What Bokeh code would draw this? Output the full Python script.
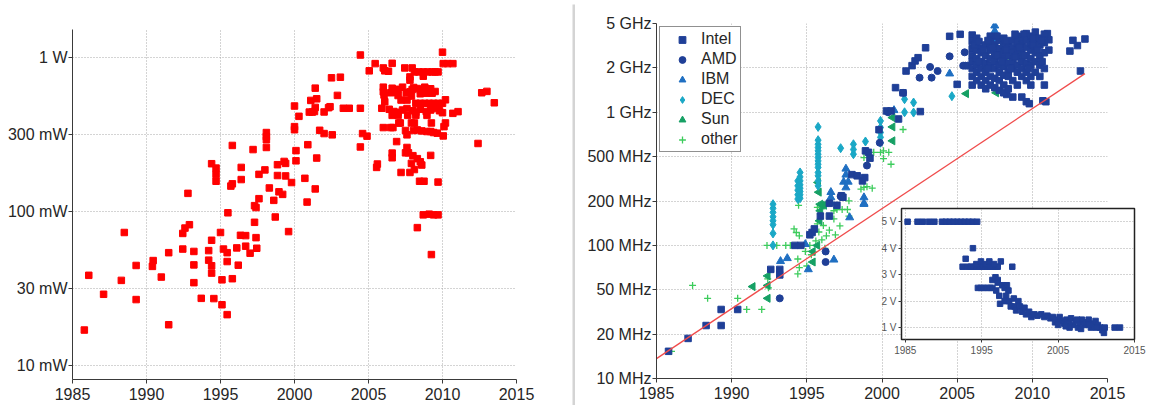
import math
from bokeh.plotting import figure
from bokeh.models import (FixedTicker, CustomJSTickFormatter, PrintfTickFormatter, Range1d,
                          GridBox, Legend, LegendItem)
from bokeh.embed import file_html
from bokeh.resources import INLINE

# ---------------- data ----------------
# left panel: power (mW) vs year
power_points = [
    (1985.8, 17), (1986.1, 38.5), (1987.1, 29), (1988.3, 35.7), (1988.5, 73), (1989.3, 44.6), (1989.3, 26.8), (1990.4, 44), (1990.45, 48), (1991.0, 37.5),
    (1991.5, 54), (1991.5, 18.4), (1992.45, 72), (1992.45, 57), (1992.6, 78), (1992.9, 82), (1993.2, 55), (1993.2, 45), (1993.2, 34.5), (1993.7, 27.3),
    (1994.2, 55.7), (1994.2, 48.3), (1994.4, 65), (1994.4, 44.4), (1994.4, 39.8), (1994.55, 27.2), (1995.0, 73), (1995.1, 36), (1995.1, 24.8), (1995.2, 57),
    (1995.45, 54), (1995.45, 47.3), (1995.45, 21.4), (1995.5, 98), (1995.8, 36.6), (1996.1, 58), (1996.2, 44.8), (1996.35, 70), (1996.7, 69.7), (1996.7, 59.5),
    (1997.0, 53.6), (1997.3, 85), (1997.3, 109), (1997.4, 106), (1997.4, 67.6), (1997.45, 57.7), (1998.6, 118), (1998.7, 92), (1999.6, 74),
    (1992.8, 131), (1994.4, 204), (1994.7, 191), (1994.7, 174), (1994.7, 157), (1995.7, 146), (1995.8, 151), (1995.8, 268), (1996.4, 193), (1996.4, 161),
    (1997.2, 252), (1997.6, 174), (1997.6, 121), (1998.0, 186), (1998.1, 325), (1998.1, 306), (1998.1, 292), (1998.1, 260), (1998.3, 142), (1998.85, 201),
    (1998.85, 171), (1998.95, 134), (1999.2, 129), (1999.3, 211), (1999.4, 205), (1999.4, 170), (1999.8, 154), (2000.0, 483), (2000.0, 355), (2000.0, 339),
    (2000.3, 414), (2000.1, 248), (2000.1, 213),
    (2000.9, 271), (2000.7, 164), (2000.85, 115), (2001.4, 140), (2001.5, 222), (2001.1, 525), (2001.4, 631), (2001.5, 538), (2001.4, 473), (2001.0, 441),
    (2001.2, 441), (2001.35, 445), (2001.7, 336), (2002.0, 320), (2002.0, 442), (2002.3, 471), (2002.4, 478), (2002.5, 736), (2002.55, 314), (2002.9, 566),
    (2003.1, 743), (2003.3, 467), (2003.7, 467), (2004.45, 1035), (2004.45, 467), (2004.45, 262), (2004.6, 320), (2004.9, 308), (2005.05, 817),
    (2005.45, 910), (2006.0, 853), (2006.1, 817), (2006.35, 812), (2006.6, 914), (2007.45, 853), (2007.95, 853), (2007.8, 746), (2007.8, 711), (2008.1, 804),
    (2008.4, 804), (2008.7, 804), (2009.0, 804), (2009.3, 804), (2009.5, 804), (2009.7, 804), (2008.7, 754), (2010.0, 1080), (2010.05, 910), (2010.35, 910),
    (2010.7, 910), (2012.65, 589), (2013.0, 601), (2013.5, 507), (2012.4, 276),
    (2008.3, 78.5), (2008.7, 95), (2009.1, 96), (2009.4, 95), (2009.7, 95), (2009.25, 52.5), (2008.45, 157), (2008.75, 157), (2009.7, 155), (2005.55, 193),
    (2005.6, 203), (2007.2, 179), (2007.8, 179), (2008.1, 187), (2006.6, 239), (2006.6, 223), (2006.9, 284), (2007.6, 260), (2007.5, 240), (2007.7, 240),
    (2008.0, 230), (2008.3, 220), (2008.5, 210), (2008.6, 200), (2007.9, 205), (2009.2, 231),
    (2006.0, 597), (2006.05, 569), (2006.1, 515), (2006.5, 589), (2006.7, 597), (2006.95, 590), (2007.0, 565), (2007.2, 528), (2007.55, 589), (2007.8, 597),
    (2007.95, 618), (2008.05, 637), (2008.3, 627), (2008.5, 612), (2008.7, 612), (2008.9, 585), (2009.3, 585), (2008.5, 580), (2007.9, 560), (2007.6, 528),
    (2006.0, 640), (2006.6, 630), (2007.3, 640), (2008.8, 640), (2009.2, 625), (2009.5, 600), (2007.0, 620),
    (2008.2, 503), (2008.5, 503), (2008.8, 503), (2009.1, 503), (2009.4, 503), (2009.7, 503), (2010.0, 503),
    (2005.9, 467), (2006.4, 460), (2006.7, 445), (2007.0, 440), (2007.3, 455), (2007.6, 465), (2008.0, 450), (2008.2, 440), (2008.5, 460), (2008.9, 445),
    (2009.2, 455), (2009.5, 465), (2009.8, 450), (2010.0, 437), (2010.7, 433), (2011.05, 444), (2010.2, 530),
    (2006.6, 420), (2007.0, 420), (2007.65, 420), (2008.2, 420), (2008.95, 420),
    (2007.05, 375), (2007.15, 375), (2007.9, 375), (2008.1, 375), (2009.25, 375), (2010.2, 375),
    (2006.0, 350), (2006.5, 350), (2006.65, 350),
    (2007.5, 335), (2007.6, 314), (2008.05, 335), (2008.3, 338), (2008.6, 333), (2008.95, 330), (2009.2, 330), (2009.4, 325), (2009.65, 322), (2010.05, 309), (2010.1, 355),
]
power_year = [p[0] for p in power_points]
power_mw = [p[1] for p in power_points]

power_ticks = [10, 31.62, 100, 316.2, 1000]
power_labels = ["10 mW", "30 mW", "100 mW", "300 mW", "1 W"]
year_ticks = [1985, 1990, 1995, 2000, 2005, 2010, 2015]

# right panel: clock frequency (MHz) vs year
intel_points = [
    (1985.8, 16), (1987.1, 20), (1988.3, 25), (1989.3, 33), (1989.3, 25), (1990.4, 33), (1992.6, 66), (1993.2, 66), (1993.2, 60), (1994.2, 100),
    (1994.6, 100), (1995.2, 120), (1995.35, 125), (1995.5, 133), (1995.9, 166), (1996.5, 166), (1996.5, 207), (1997.0, 200), (1997.3, 236), (1997.4, 230),
    (1998.0, 340), (1998.35, 333), (1998.7, 305), (1998.85, 323), (1998.9, 513), (1999.1, 500), (1999.2, 452), (1999.8, 740), (2000.3, 1023), (2000.6, 1023),
    (2001.1, 890), (2000.9, 1531), (2001.4, 1400), (2002.55, 1012), (2001.6, 2040), (2002.0, 2240), (2002.2, 2430), (2002.4, 2570), (2002.9, 3050), (2004.5, 3720),
    (2005.2, 3850), (2005.0, 1620), (2012.7, 3470), (2013.5, 3550), (2013.0, 3170), (2012.5, 2880), (2013.2, 2040), (2008.3, 1360), (2008.7, 1300), (2009.3, 1300),
    (2009.6, 1200), (2009.8, 1160), (2010.7, 1220), (2010.9, 1200), (2011.0, 3900), (2011.1, 3500),
    (2006.0, 3800), (2006.0, 3400), (2006.0, 3000), (2006.0, 2660), (2006.0, 2400), (2006.0, 2130), (2006.0, 1860), (2006.0, 1600),
    (2006.3, 3600), (2006.3, 3200), (2006.3, 2930), (2006.3, 2530), (2006.3, 2260), (2006.3, 2000), (2006.3, 1730),
    (2006.6, 3000), (2006.6, 2800), (2006.6, 2400), (2006.6, 2130), (2006.6, 1860), (2006.6, 1600),
    (2006.9, 3200), (2006.9, 2660), (2006.9, 2330), (2006.9, 2000), (2006.9, 1730), (2006.9, 1500),
    (2007.2, 3730), (2007.2, 3330), (2007.2, 2930), (2007.2, 2530), (2007.2, 2260), (2007.2, 1860), (2007.2, 1600),
    (2007.5, 3200), (2007.5, 2800), (2007.5, 2400), (2007.5, 2130), (2007.5, 1800), (2007.5, 1530),
    (2007.8, 3460), (2007.8, 3000), (2007.8, 2660), (2007.8, 2260), (2007.8, 2000), (2007.8, 1730), (2007.8, 1460),
    (2008.1, 3600), (2008.1, 3200), (2008.1, 2800), (2008.1, 2500), (2008.1, 2200), (2008.1, 1900), (2008.1, 1600), (2008.1, 1400),
    (2008.4, 3300), (2008.4, 3000), (2008.4, 2660), (2008.4, 2330), (2008.4, 2000), (2008.4, 1860), (2008.4, 1500),
    (2008.7, 3460), (2008.7, 3060), (2008.7, 2800), (2008.7, 2400), (2008.7, 2130), (2008.7, 1730),
    (2009.0, 3730), (2009.0, 3330), (2009.0, 2930), (2009.0, 2660), (2009.0, 2260), (2009.0, 2000), (2009.0, 1600),
    (2009.3, 3600), (2009.3, 3200), (2009.3, 2800), (2009.3, 2400), (2009.3, 2130), (2009.3, 1860),
    (2009.6, 3900), (2009.6, 3460), (2009.6, 3060), (2009.6, 2660), (2009.6, 2330), (2009.6, 2000), (2009.6, 1730),
    (2009.9, 3730), (2009.9, 3330), (2009.9, 2930), (2009.9, 2530), (2009.9, 2260), (2009.9, 1860), (2009.9, 1600),
    (2010.2, 4000), (2010.2, 3460), (2010.2, 3060), (2010.2, 2800), (2010.2, 2400), (2010.2, 2000),
    (2010.5, 3600), (2010.5, 3200), (2010.5, 2660), (2010.5, 2260), (2010.5, 1860),
    (2010.8, 3860), (2010.8, 3330), (2010.8, 2800), (2010.8, 2130), (2010.8, 1600),
    (2011.1, 2930),
    (2006.15, 3200), (2006.45, 2400), (2006.75, 2930), (2007.05, 2130), (2007.35, 3060), (2007.65, 2660), (2007.95, 2400), (2008.25, 2930),
    (2008.55, 2130), (2008.85, 2600), (2009.15, 3060), (2009.45, 2660), (2009.75, 2130), (2010.05, 3200), (2010.35, 2930), (2010.65, 2400),
    (2006.45, 3400), (2007.05, 3460), (2007.65, 3730), (2008.25, 3460), (2008.85, 3860), (2009.45, 3860), (2010.05, 3600), (2010.65, 3460),
]
amd_points = [
    (1993.2, 40), (1996.25, 90), (1996.25, 75), (1997.25, 234), (1999.0, 398), (1999.85, 590), (2000.4, 1000), (2001.4, 1400),
    (2002.5, 1820), (2003.2, 2190), (2003.3, 1820), (2003.7, 2040), (2004.5, 2630), (2005.5, 2820), (2005.4, 2240), (2005.55, 2240), (2005.7, 2240),
]
ibm_points = [
    (1993.25, 76), (1993.7, 80), (1994.9, 102), (1995.1, 66), (1996.8, 78), (1997.85, 162), (1998.8, 207), (1996.6, 251), (1996.6, 229), (1996.6, 209),
    (1997.6, 376), (1997.6, 339), (1997.6, 272), (1997.45, 300), (1997.75, 300), (1998.8, 229), (1998.8, 204), (2000.8, 1035), (2004.5, 1950),
    (2007.5, 4470), (2007.5, 4070), (2007.5, 3720), (2007.5, 3430), (2010.2, 3720),
]
dec_points = [
    (1992.75, 100), (1992.75, 123), (1992.75, 143), (1992.75, 153), (1992.75, 164), (1992.75, 177), (1992.75, 190), (1992.75, 204),
    (1994.4, 223), (1994.4, 240), (1994.4, 260), (1994.4, 280), (1994.4, 305),
    (1994.55, 226), (1994.55, 240), (1994.55, 254), (1994.55, 269), (1994.55, 285), (1994.55, 305), (1994.55, 327), (1994.55, 353),
    (1995.75, 280), (1995.75, 305), (1995.75, 333), (1995.75, 353), (1995.75, 385), (1995.75, 407), (1995.75, 431), (1995.75, 457),
    (1995.75, 484), (1995.75, 513), (1995.75, 543), (1995.75, 575), (1995.75, 617), (1995.75, 776),
    (1997.25, 537), (1998.1, 484), (1998.1, 525), (1998.1, 575), (1998.9, 603),
    (1999.9, 590), (1999.9, 648), (1999.9, 705), (1999.9, 768), (1999.9, 861),
    (2001.5, 1000), (2001.5, 1253), (2002.1, 1183), (2002.1, 995), (2004.65, 1320),
]
sun_points = [
    (1991.4, 49), (1992.4, 59), (1992.4, 50), (1992.4, 40), (1995.4, 75), (1995.4, 90), (1995.7, 100), (1995.85, 153), (1996.0, 200), (1996.15, 200),
    (1995.75, 297), (1995.8, 251), (1995.9, 204), (1995.9, 182), (2000.7, 912), (2000.7, 776), (2000.7, 610), (2005.6, 1380), (2007.6, 1400),
]
other_points = [
    (1986.0, 16), (1987.4, 50), (1988.4, 40), (1990.4, 40), (1991.0, 33), (1992.0, 33), (1992.35, 100), (1993.0, 100), (1993.6, 100), (1992.4, 56),
    (1992.45, 48), (1994.15, 133), (1994.3, 125), (1994.4, 79), (1994.5, 68), (1994.4, 61), (1994.5, 118), (1994.45, 200), (1995.7, 193), (1995.9, 172),
    (1995.9, 158), (1995.7, 145), (1996.1, 141), (1995.8, 126), (1996.3, 118), (1995.6, 108), (1995.45, 89), (1996.8, 182), (1996.8, 158), (1997.0, 186),
    (1997.35, 186), (1997.7, 186), (1997.8, 166), (1997.8, 216), (1998.6, 265), (1999.0, 276), (1999.35, 269), (1998.8, 457), (1999.0, 407), (2000.1, 513),
    (2000.1, 449), (2000.45, 500), (1999.45, 500), (1999.9, 500), (2000.6, 407), (1998.8, 273), (2001.4, 742), (2008.5, 2880), (2008.5, 2680), (2008.5, 2510),
    (1996.0, 110), (1996.5, 130), (1996.9, 120), (1997.2, 140), (1995.3, 85), (1995.0, 70), (1996.2, 95), (1994.9, 90), (1993.9, 100), (1995.2, 100),
]
trend_year = [1985.0, 2013.5]
trend_mhz = [14.1, 1950]

freq_ticks = [10, 21.54, 46.42, 100, 215.4, 464.2, 1000, 2154, 4642]
freq_labels = ["10 MHz", "20 MHz", "50 MHz", "100 MHz", "200 MHz", "500 MHz", "1 GHz", "2 GHz", "5 GHz"]

# inset: supply voltage vs year
volt_points = [
    (1985.3, 5), (1986.6, 5), (1987.3, 5), (1988.1, 5), (1988.8, 5), (1989.8, 5), (1990.3, 5), (1990.8, 5), (1991.3, 5), (1991.8, 5),
    (1992.3, 5), (1992.8, 5), (1993.3, 5), (1993.8, 5), (1994.4, 5),
    (1993.85, 4.0), (1992.9, 3.6), (1992.5, 3.3),
    (1993.2, 3.3), (1993.6, 3.3), (1994.0, 3.3), (1994.4, 3.3), (1994.8, 3.3), (1995.2, 3.3), (1995.6, 3.3), (1996.0, 3.3), (1996.4, 3.3), (1996.8, 3.3),
    (1997.1, 3.3), (1999.0, 3.3),
    (1994.3, 3.4), (1994.9, 3.5), (1995.5, 3.4), (1996.0, 3.5), (1996.6, 3.4), (1997.5, 3.5),
    (1994.5, 2.5), (1994.9, 2.5), (1995.3, 2.5), (1995.7, 2.5), (1996.1, 2.5), (1996.4, 2.5),
    (1996.4, 2.8), (1996.8, 2.9), (1997.1, 2.8), (1997.1, 2.7),
    (1996.9, 2.4), (1997.3, 2.2), (1997.4, 1.9), (1997.7, 2.6), (1998.0, 2.5), (1998.3, 2.6), (1998.5, 2.4), (1998.2, 2.2), (1998.0, 2.0), (1998.6, 2.0),
    (1998.8, 1.8), (1999.2, 2.1), (1999.3, 1.8), (1999.5, 1.65), (1999.8, 2.0), (2000.0, 1.8), (2000.3, 1.6), (2000.6, 1.75), (2000.8, 1.5), (2001.2, 1.6),
    (2001.5, 1.4), (2001.9, 1.5), (2002.3, 1.45), (2002.8, 1.5), (2003.2, 1.4), (2003.6, 1.45), (2004.0, 1.35), (2004.3, 1.4), (2004.6, 1.2), (2004.9, 1.3),
    (2005.2, 1.4), (2005.5, 1.25), (2005.8, 1.15), (2006.1, 1.3), (2006.4, 1.2), (2006.7, 1.35), (2007.0, 1.1), (2007.3, 1.25), (2007.6, 1.0), (2007.9, 1.2),
    (2008.1, 1.3), (2008.4, 1.1), (2008.7, 1.2), (2009.0, 1.3), (2009.3, 1.0), (2009.6, 1.15), (2009.9, 1.25), (2010.2, 1.1), (2010.5, 1.0), (2010.8, 0.9),
    (2011.0, 0.8), (2011.1, 1.0), (2012.4, 1.0), (2013.1, 1.0),
    (2006.5, 1.0), (2007.5, 1.3), (2008.0, 0.95), (2009.0, 1.1), (2010.0, 1.0), (2005.0, 1.1), (2006.0, 1.05),
]
inset_year_ticks = [1985, 1995, 2005, 2015]
volt_ticks = [1, 2, 3, 4, 5]

# ---------------- styling helpers ----------------
FONT = "Liberation Sans"
TXT = "#262626"
AX = "#3a3a3a"
GRID = "#a8a8a8"


def label_formatter(vals, labs):
    return CustomJSTickFormatter(args=dict(vals=vals, labs=labs), code="""
        let best = 0, bd = 1e9;
        for (let i = 0; i < vals.length; i++) {
            const d = Math.abs(Math.log(vals[i]) - Math.log(tick));
            if (d < bd) { bd = d; best = i; }
        }
        return labs[best];
    """)


def style_axes(p, size, standoff_x=4, standoff_y=2, tick_out=4):
    for ax in p.xaxis + p.yaxis:
        ax.axis_line_color = AX
        ax.axis_line_width = 1
        ax.major_tick_line_color = AX
        ax.major_tick_in = 0
        ax.major_tick_out = tick_out
        ax.minor_tick_line_color = None
        ax.major_label_text_font = FONT
        ax.major_label_text_font_size = size
        ax.major_label_text_color = TXT
    for ax in p.xaxis:
        ax.major_label_standoff = standoff_x
    for ax in p.yaxis:
        ax.major_label_standoff = standoff_y
    for g in p.xgrid + p.ygrid:
        g.grid_line_color = GRID
        g.grid_line_dash = "1 2"
        g.grid_line_width = 1
    p.outline_line_color = None


# ---------------- left panel ----------------
pl = figure(width=571, height=409, x_range=Range1d(1985, 2015), y_range=Range1d(8.12, 1515),
            y_axis_type="log", output_backend="svg", toolbar_location=None,
            min_border_left=72, min_border_right=55, min_border_top=29, min_border_bottom=30)
pl.frame_align = False
pl.xaxis.ticker = FixedTicker(ticks=year_ticks)
pl.yaxis.ticker = FixedTicker(ticks=power_ticks)
pl.yaxis.formatter = label_formatter(power_ticks, power_labels)
style_axes(pl, "16px", standoff_x=4, standoff_y=1)
pl.scatter(power_year, power_mw, marker="square", size=6.5, fill_color="#ff0000", line_color="#ff0000")

# ---------------- separator (empty plot with grey fill) ----------------
sep = figure(width=3, height=401, output_backend="svg", toolbar_location=None,
             x_axis_location=None, y_axis_location=None, min_border=0,
             x_range=Range1d(0, 1), y_range=Range1d(0, 1))
sep.frame_align = False
sep.margin = (4, 0, 0, 1)
sep.border_fill_color = "#d4d4d4"
sep.background_fill_color = "#d4d4d4"
sep.outline_line_color = None
sep.grid.visible = False

# ---------------- right panel ----------------
pr = figure(width=578, height=409, x_range=Range1d(1985, 2015), y_range=Range1d(10, 4642),
            y_axis_type="log", output_backend="svg", toolbar_location=None,
            min_border_left=81, min_border_right=46, min_border_top=23, min_border_bottom=31)
pr.frame_align = False
pr.xaxis.ticker = FixedTicker(ticks=year_ticks)
pr.yaxis.ticker = FixedTicker(ticks=freq_ticks)
pr.yaxis.formatter = label_formatter(freq_ticks, freq_labels)
style_axes(pr, "16px", standoff_x=4, standoff_y=1)

C_INTEL = "#1f3f97"
C_IBM = "#1f6fc2"
C_DEC = "#1aa8c6"
C_SUN = "#16a064"
C_OTHER = "#3dcc5c"


def xs(pts):
    return [p[0] for p in pts]


def ys(pts):
    return [p[1] for p in pts]


r_other = pr.scatter(xs(other_points), ys(other_points), marker="cross", size=7, line_color=C_OTHER, line_width=1.3)
r_sun = pr.scatter(xs(sun_points), ys(sun_points), marker="triangle", angle=math.pi / 2, size=8,
                   fill_color=C_SUN, line_color=C_SUN)
r_dec = pr.scatter(xs(dec_points), ys(dec_points), marker="diamond", size=9, fill_color=C_DEC, line_color=C_DEC)
r_ibm = pr.scatter(xs(ibm_points), ys(ibm_points), marker="triangle", size=8, fill_color=C_IBM, line_color=C_IBM)
r_amd = pr.scatter(xs(amd_points), ys(amd_points), marker="circle", size=7, fill_color=C_INTEL, line_color=C_INTEL)
r_intel = pr.scatter(xs(intel_points), ys(intel_points), marker="square", size=6.5, fill_color=C_INTEL, line_color=C_INTEL)
pr.line(trend_year, trend_mhz, line_color="#f04c4c", line_width=1.3)

legend = Legend(items=[
    LegendItem(label="Intel", renderers=[r_intel]),
    LegendItem(label="AMD", renderers=[r_amd]),
    LegendItem(label="IBM", renderers=[r_ibm]),
    LegendItem(label="DEC", renderers=[r_dec]),
    LegendItem(label="Sun", renderers=[r_sun]),
    LegendItem(label="other", renderers=[r_other]),
], location="top_left")
legend.margin = 3
legend.padding = 3
legend.spacing = 2
legend.glyph_width = 38
legend.glyph_height = 17
legend.label_height = 17
legend.label_standoff = -2
legend.label_text_font = FONT
legend.label_text_font_size = "16px"
legend.label_text_color = TXT
legend.border_line_color = "#222222"
legend.border_line_width = 1.5
legend.background_fill_color = "white"
legend.background_fill_alpha = 1
pr.add_layout(legend)

# ---------------- inset ----------------
pi = figure(width=282, height=160, x_range=Range1d(1984.5, 2015), y_range=Range1d(0.55, 5.5),
            output_backend="svg", toolbar_location=None,
            min_border_left=30, min_border_right=19, min_border_top=8, min_border_bottom=21)
pi.frame_align = False
pi.xaxis.ticker = FixedTicker(ticks=inset_year_ticks)
pi.yaxis.ticker = FixedTicker(ticks=volt_ticks)
pi.yaxis.formatter = PrintfTickFormatter(format="%d V")
style_axes(pi, "10px", standoff_x=3, standoff_y=2, tick_out=3)
for ax in pi.xaxis + pi.yaxis:
    ax.axis_line_color = None
    ax.major_label_text_color = "#555555"
pi.outline_line_color = "#222222"
pi.outline_line_width = 1.5
pi.background_fill_color = "white"
pi.border_fill_alpha = 0
pi.scatter(xs(volt_points), ys(volt_points), marker="square", size=5.5, fill_color=C_INTEL, line_color=C_INTEL)

grid = GridBox(children=[(pl, 0, 0, 3, 1), (sep, 0, 1, 3, 1), (pr, 0, 2, 3, 2), (pi, 1, 3, 1, 1)],
               rows=["200px", "160px", "49px"], cols=["571px", "4px", "296px", "282px"], spacing=0)

open("out.html", "w").write(file_html(grid, INLINE))
